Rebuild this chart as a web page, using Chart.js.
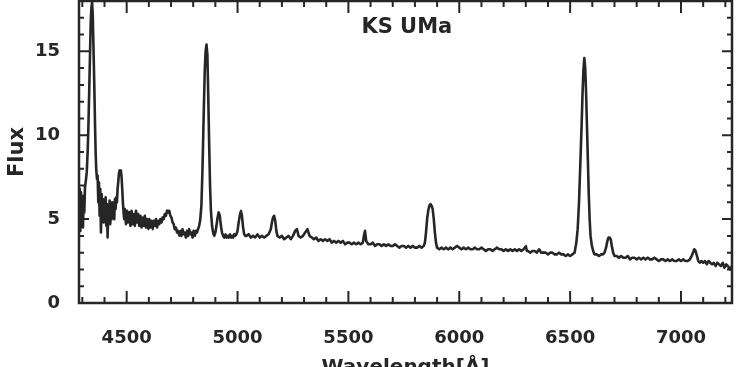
<!DOCTYPE html>
<html>
<head>
<meta charset="utf-8">
<script src="https://cdn.jsdelivr.net/npm/chart.js@4.4.1/dist/chart.umd.min.js"></script>
<style>
  html, body { margin: 0; padding: 0; background: #fff; overflow: hidden; }
  #wrap { position: relative; width: 737px; height: 380px; }
</style>
</head>
<body>
<div id="wrap"><canvas id="spectrum"></canvas></div>
<script>
// KS UMa spectrum (wavelength in Angstrom, flux in plot units)
const wavelength = [
  4285,4288,4291,4294,4297,4300,4303,4306,4309,4312,
  4316,4320,4324,4327,4331,4335,4338,4341,4344,4347,
  4350,4354,4357,4360,4363,4366,
  4369,4372,4375,4378,4381,4384,4387,4390,4393,4396,
  4399,4402,4405,4408,4411,4414,4417,4420,4423,4426,
  4429,4432,4435,4438,4441,4444,4447,4450,4453,4456,
  4459,4462,4465,4468,4471,4474,4477,4480,4483,4486,4489,
  4492,4497,4502,4507,4512,4517,4522,4527,4532,4537,
  4542,4547,4552,4557,4562,4567,4572,4577,4582,4587,
  4592,4597,4602,4607,4612,4617,4622,4627,4632,4637,
  4642,4647,4652,4657,4662,4667,4672,4677,4682,4687,
  4692,4697,4702,4707,4712,4717,4722,4727,4732,
  4737,4742,4747,4752,4757,4762,4767,4772,4777,4782,
  4787,4792,4797,4802,4807,4812,4817,4822,4827,4832,
  4837,4842,4847,4852,4856,4860,4864,4868,4872,4876,
  4880,4885,4890,4895,4900,4905,4910,4915,4920,4925,
  4930,4935,4940,4945,4950,4955,4960,4965,4970,4975,
  4980,4985,4990,4995,5000,5005,5010,5015,5020,5025,5030,5035,
  5040,5050,5060,5070,5080,5090,5100,5110,5120,5130,5140,
  5150,5155,5160,5165,5170,5175,5180,5190,5200,5210,
  5220,5230,5240,5250,5260,5268,5275,5285,5295,5305,
  5315,5325,5335,5345,5355,5365,5375,5385,5395,5405,
  5415,5425,5435,5445,5455,5465,5475,5485,5495,5505,
  5515,5525,5535,5545,5555,5565,5570,5575,5580,5590,
  5600,5610,5620,5630,5640,5650,5660,5670,5680,5690,
  5700,5710,5720,5730,5740,5750,5760,5770,5780,5790,
  5800,5810,5820,5830,5840,5845,5850,5855,5860,5865,
  5870,5875,5880,5885,5890,5895,5900,5910,5920,5930,
  5940,5950,5960,5970,5980,5990,6000,6010,6020,6030,
  6040,6050,6060,6070,6080,6090,6100,6110,6120,6130,
  6140,6150,6160,6170,6180,6190,6200,6210,6220,6230,
  6240,6250,6260,6270,6280,6290,6300,6305,6310,6320,
  6330,6340,6350,6360,6370,6380,6390,6400,6410,6420,
  6430,6440,6450,6460,6470,6480,6490,6500,6510,6520,
  6528,6534,6540,6546,6552,6556,6560,6564,6568,6572,
  6576,6580,6584,6588,6592,6598,6604,6610,6620,6630,
  6640,6648,6655,6662,6668,6673,6678,6683,6688,6694,6700,
  6710,6720,6730,6740,6750,6760,6770,6780,6790,6800,
  6810,6820,6830,6840,6850,6860,6870,6880,6890,6900,
  6910,6920,6930,6940,6950,6960,6970,6980,6990,7000,
  7010,7020,7030,7040,7048,7054,7060,7066,7072,7078,
  7085,7092,7100,7108,7116,7124,7132,7140,7148,7156,
  7164,7172,7180,7188,7196,7204,7212,7220,7230
];
const flux = [
  5.0,6.8,4.3,6.6,4.9,6.2,4.5,6.4,5.4,6.9,
  7.3,7.8,9.0,10.3,12.6,15.0,16.8,17.6,17.9,17.2,
  15.4,13.0,10.8,9.0,7.9,7.4,
  7.6,6.0,7.2,5.2,6.8,4.2,6.5,5.0,6.2,4.8,
  6.0,5.3,6.3,4.6,5.9,3.9,5.6,4.9,6.1,4.7,
  5.8,5.0,6.0,5.2,5.8,5.0,6.2,5.6,6.3,6.0,
  6.8,7.2,7.7,7.9,7.8,7.9,7.5,6.8,6.0,5.4,5.0,
  5.6,4.7,5.5,4.8,5.4,4.6,5.5,4.7,5.3,4.6,
  5.5,4.8,5.3,4.6,5.2,4.5,5.1,4.6,5.2,4.5,
  5.0,4.4,5.0,4.5,4.9,4.4,4.9,4.6,5.0,4.5,
  4.9,4.7,5.0,4.8,5.1,5.0,5.3,5.2,5.5,5.4,
  5.5,5.2,5.1,4.8,4.7,4.4,4.5,4.2,4.3,
  4.0,4.3,4.0,4.4,4.1,4.2,3.9,4.3,4.0,4.4,
  4.1,4.2,3.9,4.3,4.0,4.3,4.2,4.4,4.6,5.0,
  5.8,8.0,11.0,13.8,15.0,15.4,14.8,12.3,9.5,7.0,
  5.5,4.6,4.2,4.0,4.2,4.6,5.1,5.4,5.2,4.6,
  4.2,4.0,3.9,4.1,3.9,4.0,3.9,4.1,3.9,4.0,
  3.9,4.1,4.0,4.1,4.3,4.8,5.2,5.5,5.2,4.5,4.1,4.0,
  4.0,4.1,3.9,4.0,3.9,4.1,3.9,4.0,3.9,4.0,4.1,
  4.4,4.8,5.1,5.2,4.9,4.3,4.0,3.9,4.0,3.8,
  3.9,4.0,3.8,4.0,4.3,4.4,4.0,3.9,4.0,4.2,
  4.4,4.0,3.9,3.8,3.9,3.7,3.8,3.7,3.8,3.7,
  3.8,3.6,3.7,3.6,3.7,3.6,3.7,3.5,3.6,3.6,
  3.5,3.6,3.5,3.6,3.5,3.6,4.0,4.3,3.7,3.5,
  3.5,3.6,3.4,3.5,3.5,3.4,3.5,3.4,3.5,3.4,
  3.4,3.5,3.4,3.3,3.4,3.4,3.3,3.4,3.3,3.4,
  3.3,3.3,3.4,3.3,3.4,3.6,4.2,5.0,5.5,5.8,
  5.9,5.8,5.6,5.0,4.2,3.6,3.3,3.2,3.3,3.2,
  3.3,3.2,3.3,3.2,3.3,3.4,3.3,3.2,3.3,3.2,
  3.3,3.2,3.2,3.3,3.2,3.2,3.3,3.2,3.1,3.2,
  3.2,3.1,3.2,3.3,3.2,3.2,3.1,3.2,3.1,3.2,
  3.1,3.2,3.1,3.2,3.1,3.2,3.4,3.1,3.1,3.0,
  3.1,3.1,3.0,3.2,3.0,3.0,3.0,2.9,3.0,3.0,
  2.9,2.9,3.0,2.9,2.9,2.8,2.9,2.8,2.9,3.0,
  3.6,4.4,6.0,8.3,10.7,12.5,13.9,14.6,14.0,12.5,
  10.5,8.5,6.5,5.0,4.0,3.4,3.1,2.9,2.9,2.8,
  2.9,2.9,3.0,3.3,3.7,3.9,3.9,3.8,3.4,3.0,2.8,
  2.8,2.7,2.8,2.7,2.7,2.8,2.6,2.7,2.7,2.6,
  2.7,2.6,2.7,2.6,2.7,2.6,2.6,2.7,2.6,2.5,
  2.6,2.6,2.5,2.6,2.5,2.6,2.5,2.5,2.6,2.5,
  2.6,2.5,2.5,2.6,2.8,3.0,3.2,3.1,2.8,2.5,
  2.4,2.5,2.4,2.5,2.3,2.5,2.4,2.3,2.4,2.2,
  2.4,2.3,2.2,2.4,2.1,2.3,2.2,2.0,2.2
];
const xTickLabels = [4500, 5000, 5500, 6000, 6500, 7000];
const yTickLabels = [0, 5, 10, 15];

const ink = '#262626';
const face = '"DejaVu Sans", sans-serif';

// frame, inward ticks on all four sides, and the star name inside the box
const frameTicks = {
    id: 'frameTicks',
    afterDraw(chart) {
        const {ctx, chartArea: a, scales: {x, y}} = chart;
        ctx.save();
        ctx.strokeStyle = ink;
        ctx.lineWidth = 2;
        ctx.beginPath();
        for (let v = 4300; v <= x.max; v += 100) {
            const px = x.getPixelForValue(v);
            const len = xTickLabels.includes(v) ? 12 : 6;
            ctx.moveTo(px, a.bottom); ctx.lineTo(px, a.bottom - len);
            ctx.moveTo(px, a.top); ctx.lineTo(px, a.top + len);
        }
        for (let v = 1; v <= y.max; v++) {
            const py = y.getPixelForValue(v);
            const len = yTickLabels.includes(v) ? 10 : 5;
            ctx.moveTo(a.left, py); ctx.lineTo(a.left + len, py);
            ctx.moveTo(a.right, py); ctx.lineTo(a.right - len, py);
        }
        ctx.stroke();
        ctx.lineWidth = 2.5;
        ctx.strokeRect(a.left, a.top, a.right - a.left, a.bottom - a.top);
        ctx.fillStyle = ink;
        ctx.font = 'bold 21px ' + face;
        ctx.textAlign = 'center';
        ctx.textBaseline = 'middle';
        ctx.fillText('KS UMa', a.left + (a.right - a.left) * 0.502, a.top + 27);
        ctx.restore();
    }
};

new Chart(document.getElementById('spectrum'), {
    type: 'line',
    data: {
        datasets: [{
            data: wavelength.map((w, i) => ({x: w, y: flux[i]})),
            borderColor: ink,
            borderWidth: 2.6,
            borderJoinStyle: 'round',
            borderCapStyle: 'round',
            pointRadius: 0,
            // tiny tension keeps the lines straight but avoids the pixel-column fast path
            tension: 0.0001
        }]
    },
    options: {
        responsive: true,
        maintainAspectRatio: false,
        animation: false,
        layout: { padding: { top: 1, right: 5, left: 0, bottom: 0 } },
        plugins: { legend: { display: false }, tooltip: { enabled: false } },
        scales: {
            x: {
                type: 'linear',
                min: 4285,
                max: 7230,
                afterBuildTicks: s => { s.ticks = xTickLabels.map(v => ({value: v})); },
                afterFit: s => { s.height = 77; s.paddingLeft = 0; s.paddingRight = 0; },
                grid: { display: false, drawTicks: false },
                border: { display: false },
                ticks: {
                    padding: 25,
                    color: ink,
                    font: { family: face, size: 18, weight: 'bold' },
                    callback: v => String(v)
                },
                title: {
                    display: true,
                    text: 'Wavelength[Å]',
                    color: ink,
                    font: { family: face, size: 20, weight: 'bold' },
                    padding: { top: 0, bottom: 0 }
                }
            },
            y: {
                min: 0,
                max: 18,
                afterBuildTicks: s => { s.ticks = yTickLabels.map(v => ({value: v})); },
                afterFit: s => { s.width = 79; s.paddingTop = 0; s.paddingBottom = 0; },
                grid: { display: false, drawTicks: false },
                border: { display: false },
                ticks: {
                    padding: 19,
                    color: ink,
                    font: { family: face, size: 18, weight: 'bold' },
                    callback: v => String(v)
                },
                title: {
                    display: true,
                    text: 'Flux',
                    color: ink,
                    font: { family: face, size: 21, weight: 'bold' },
                    padding: { top: 5, bottom: 0 }
                }
            }
        }
    },
    plugins: [frameTicks]
});
</script>
</body>
</html>
